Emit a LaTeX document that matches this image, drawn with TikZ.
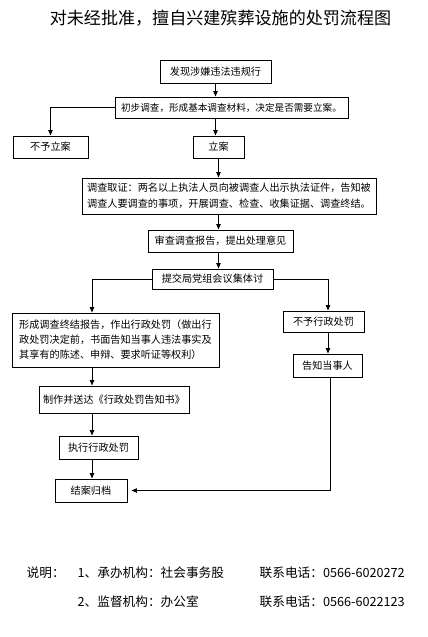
\documentclass[tikz,border=0pt]{standalone}
\usepackage{fontspec}
\setmainfont{Noto Sans CJK SC}
\usepackage{tikz}
\usetikzlibrary{positioning,arrows.meta}

\begin{document}
\begin{tikzpicture}[x=0.75pt, y=-0.75pt,
  box/.style={draw=black, line width=0.75pt, align=center, font=\fontsize{7.6pt}{12pt}\selectfont,
              inner sep=0pt},
  multi/.style={box, align=left},
  arr/.style={-{Triangle[length=4pt,width=3.2pt]}, line width=0.75pt, black},
  note/.style={anchor=west, font=\fontsize{9.5pt}{12pt}\selectfont}]
\useasboundingbox (0,0) rectangle (428,637);
\node[font=\fontsize{12.8pt}{15pt}\selectfont] (title) at (220.5,18) {对未经批准，擅自兴建殡葬设施的处罚流程图};
% main column
\node[box, minimum width=83.25pt, minimum height=17.25pt] (find) at (215.5,71.5) {发现涉嫌违法违规行};
\node[box, minimum width=174.75pt, minimum height=15.75pt, font=\fontsize{7.2pt}{12pt}\selectfont] (prelim) at (231.5,107.5) {初步调查，形成基本调查材料，决定是否需要立案。};
\node[box, minimum width=56.25pt, minimum height=16.5pt] (nocase) at (50.5,147) {不予立案};
\node[box, minimum width=38.25pt, minimum height=16.5pt] (case) at (218.5,147) {立案};
\node[multi, minimum width=220.5pt, minimum height=27pt] (inv) at (229,196) {调查取证：两名以上执法人员向被调查人出示执法证件，告知被\\调查人要调查的事项，开展调查、检查、收集证据、调查终结。};
\node[box, minimum width=108.75pt, minimum height=16.5pt] (review) at (220.5,241) {审查调查报告，提出处理意见};
\node[box, minimum width=90.75pt, minimum height=15pt] (submit) at (212.5,279) {提交局党组会议集体讨};
% left branch
\node[multi, minimum width=155.25pt, minimum height=40.5pt, font=\fontsize{7.6pt}{11.3pt}\selectfont] (report) at (115.5,340) {形成调查终结报告，作出行政处罚（做出行\\政处罚决定前，书面告知当事人违法事实及\\其享有的陈述、申辩、要求听证等权利）};
\node[box, minimum width=112.5pt, minimum height=20.25pt] (notice) at (114,399.5) {制作并送达《行政处罚告知书》};
\node[box, minimum width=59.25pt, minimum height=17.25pt] (exec) at (98.5,447.5) {执行行政处罚};
\node[box, minimum width=54pt, minimum height=17.25pt] (close) at (91,490.5) {结案归档};
% right branch
\node[box, minimum width=60.75pt, minimum height=15.75pt] (nopen) at (323.5,321.5) {不予行政处罚};
\node[box, minimum width=51.75pt, minimum height=17.25pt] (inform) at (327.5,365.5) {告知当事人};
\coordinate (lsp) at (92,0);
\coordinate (rsp) at (328,0);
\draw[arr] (find) -- (find |- prelim.north);
\draw[arr] (prelim.west) -| (nocase.north);
\draw[arr] (prelim.south -| find) -- (find |- case.north);
\draw[arr] (case) -- (case |- inv.north);
\draw[arr] (inv.south -| case) -- (case |- review.north);
\draw[arr] (review.south -| case) -- (case |- submit.north);
\draw[arr] (submit.west) -| (report.north -| lsp);
\draw[arr] (submit.east) -| (nopen.north -| rsp);
\draw[arr] (report.south -| lsp) -- (notice.north -| lsp);
\draw[arr] (notice.south -| lsp) -- (exec.north -| lsp);
\draw[arr] (exec.south -| lsp) -- (close.north -| lsp);
\draw[arr] (nopen.south -| rsp) -- (inform.north -| rsp);
\draw[arr] ([xshift=1.5pt]inform.south -| rsp) |- ([xshift=3pt]close.east);
% legend
\node[note] (lgd) at (22,573) {说明：};
\node[note] (org1) at (73,573) {1、承办机构：社会事务股};
\node[note] (tel1) at (255,573) {联系电话：0566-6020272};
\node[note] (org2) at (73,602) {2、监督机构：办公室};
\node[note] (tel2) at (255,602) {联系电话：0566-6022123};
\end{tikzpicture}
\end{document}
